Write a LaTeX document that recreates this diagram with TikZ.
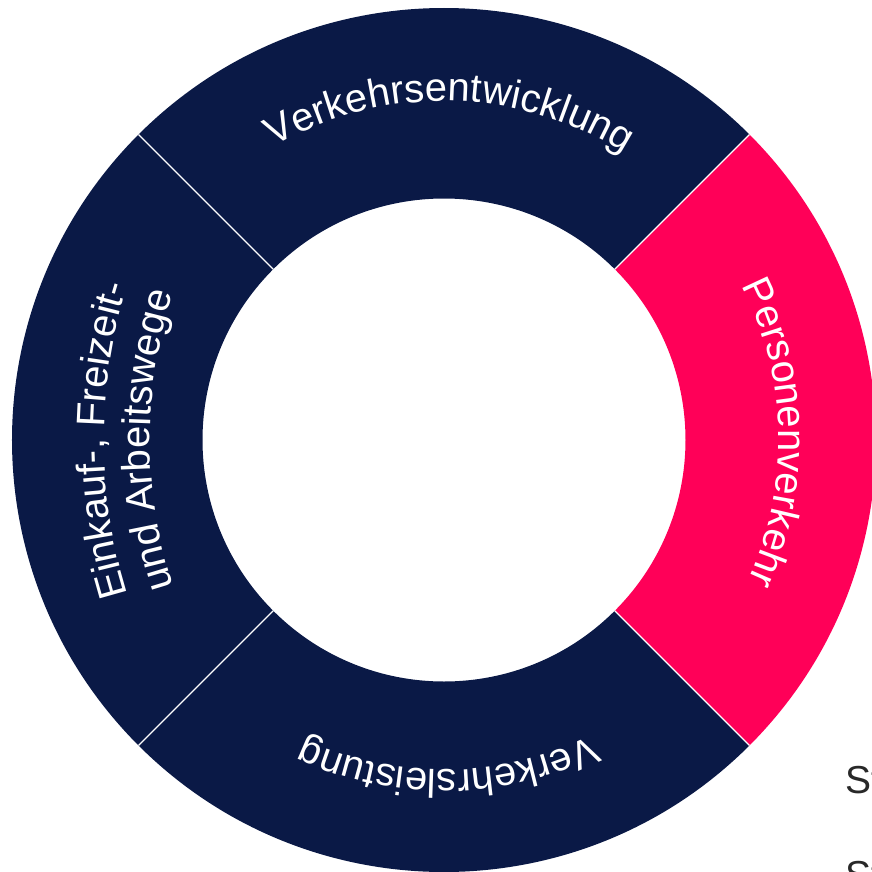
\documentclass[tikz,border=0pt]{standalone}
\usepackage{fontspec}
\setmainfont{Liberation Sans}
\newfontfamily\ringfam{Liberation Sans}
\newcommand\ringfont{\ringfam\fontsize{40}{48}\selectfont}
\usetikzlibrary{decorations.text}
\definecolor{navyseg}{RGB}{10,25,70}
\definecolor{pinkseg}{RGB}{255,0,88}
\definecolor{sidetext}{RGB}{40,40,40}
\tikzset{
  seg/.style={fill=#1},
  sep/.style={draw=white, line width=1.2pt},
  ringtext/.style={decorate, decoration={text along path, text align=center, text={|\ringfont\color{white}|#1}}}
}
\begin{document}
\begin{tikzpicture}[x=1pt,y=1pt]
\useasboundingbox (-444,-431) rectangle (428,440);
\def\Ro{432}
\def\Ri{241.5}
% segments
\path[seg=navyseg] (45:\Ro) arc[start angle=45,end angle=135,radius=\Ro] -- (135:\Ri) arc[start angle=135,end angle=45,radius=\Ri] -- cycle;
\path[seg=navyseg] (135:\Ro) arc[start angle=135,end angle=225,radius=\Ro] -- (225:\Ri) arc[start angle=225,end angle=135,radius=\Ri] -- cycle;
\path[seg=navyseg] (225:\Ro) arc[start angle=225,end angle=315,radius=\Ro] -- (315:\Ri) arc[start angle=315,end angle=225,radius=\Ri] -- cycle;
\path[seg=pinkseg] (-45:\Ro) arc[start angle=-45,end angle=45,radius=\Ro] -- (45:\Ri) arc[start angle=45,end angle=-45,radius=\Ri] -- cycle;
% separators
\foreach \a in {45,135,225,315} \path[sep] (\a:\Ri) -- (\a:\Ro);
% texts along the ring
\path[ringtext={Verkehrsentwicklung}] (139:339) arc[start angle=139,end angle=39,radius=339];
\path[ringtext={Personenverkehr}] (41.3:335) arc[start angle=41.3,end angle=-38.7,radius=335];
\path[ringtext={Verkehrsleistung}] (-39.3:330) arc[start angle=-39.3,end angle=-139.3,radius=330];
\path[ringtext={Einkauf-, Freizeit-}] ([shift={(180,0)}]200:520) arc[start angle=200,end angle=160,radius=520];
\path[ringtext={und Arbeitswege}] ([shift={(176,0)}]200:470) arc[start angle=200,end angle=160,radius=470];
% clipped side texts
\begin{scope}
\clip (-444,-431) rectangle (428,440);
\node[anchor=base west, inner sep=0pt, text=sidetext, font=\ringfam\fontsize{39}{47}\selectfont] (st1) at (401,-353) {St};
\node[anchor=base west, inner sep=0pt, text=sidetext, font=\ringfam\fontsize{39}{47}\selectfont] (st2) at (401,-448) {St};
\end{scope}
\end{tikzpicture}
\end{document}
